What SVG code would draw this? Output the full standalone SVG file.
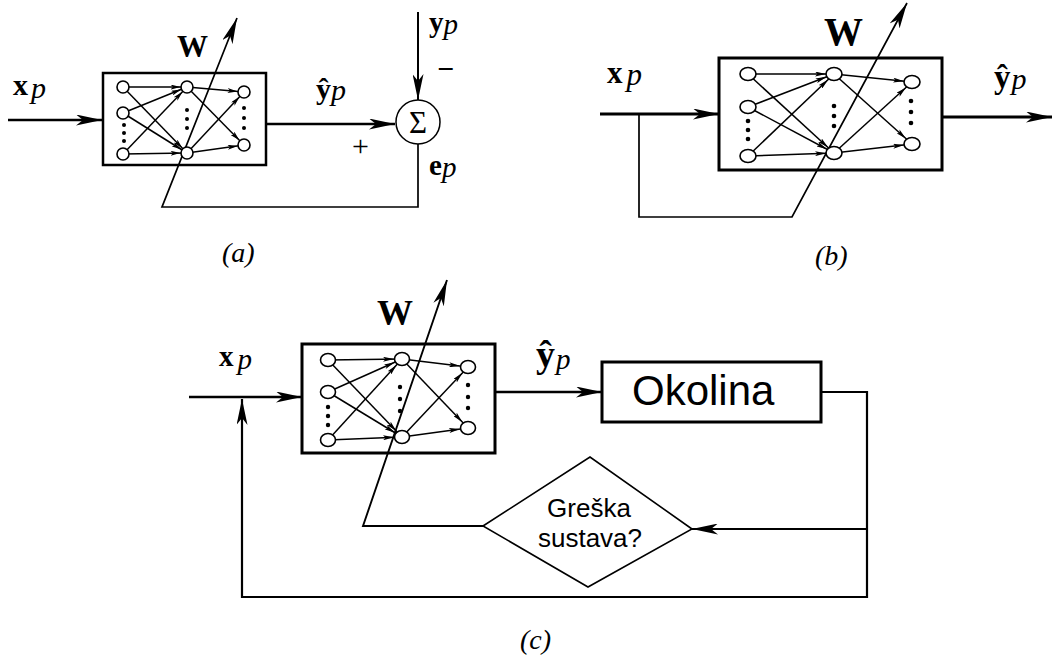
<svg xmlns="http://www.w3.org/2000/svg" width="1054" height="657" viewBox="0 0 1054 657">
<defs>
<style>
.bg{fill:#fff}
.box{fill:none;stroke:#000}
.node{fill:#fff;stroke:#000;stroke-width:1.6}
.dot{fill:#000}
.nl{stroke:#000;stroke-width:1.5;fill:none}
.ln{stroke:#000;fill:none;stroke-linejoin:miter}
.m{font-family:"Liberation Serif","Times New Roman",serif}
.b{font-weight:bold}
.i{font-style:italic}
.s{font-family:"Liberation Sans",Arial,sans-serif}
</style>
<marker id="big" viewBox="0 0 26 11" refX="26" refY="5.5" markerWidth="26" markerHeight="11" markerUnits="userSpaceOnUse" orient="auto">
<path d="M0,0 L26,5.5 L0,11 L7,5.5 z" fill="#000"/>
</marker>
<marker id="sa" viewBox="0 0 10 5" refX="16.5" refY="2.5" markerWidth="10" markerHeight="5" markerUnits="userSpaceOnUse" orient="auto">
<path d="M0,0 L10,2.5 L0,5 L2.5,2.5 z" fill="#000"/>
</marker>
<marker id="sb" viewBox="0 0 11 5" refX="19" refY="2.5" markerWidth="11" markerHeight="5" markerUnits="userSpaceOnUse" orient="auto">
<path d="M0,0 L11,2.5 L0,5 L2.5,2.5 z" fill="#000"/>
</marker>
</defs>
<rect class="bg" x="0" y="0" width="1054" height="657"/>

<g id="connectors">
<!-- (a) -->
<line class="ln" x1="8" y1="120" x2="102" y2="120" stroke-width="2.5" marker-end="url(#big)"/>
<line class="ln" x1="266" y1="124" x2="395" y2="124" stroke-width="2.5" marker-end="url(#big)"/>
<line class="ln" x1="418" y1="12" x2="418" y2="100" stroke-width="2" marker-end="url(#big)"/>
<polyline class="ln" points="418,144 418,207 162,207 237,18" stroke-width="1.7" marker-end="url(#big)"/>
<!-- (b) -->
<line class="ln" x1="600" y1="114" x2="719" y2="114" stroke-width="3" marker-end="url(#big)"/>
<polyline class="ln" points="639,114 639,217 792,217 907,3" stroke-width="1.7" marker-end="url(#big)"/>
<line class="ln" x1="942" y1="117" x2="1052" y2="117" stroke-width="3" marker-end="url(#big)"/>
<!-- (c) -->
<line class="ln" x1="189" y1="397" x2="302" y2="397" stroke-width="2.5" marker-end="url(#big)"/>
<line class="ln" x1="495" y1="392" x2="602" y2="392" stroke-width="2.5" marker-end="url(#big)"/>
<polyline class="ln" points="821,392 867,392 867,597 242,597 242,399" stroke-width="2.2" marker-end="url(#big)"/>
<line class="ln" x1="867" y1="529" x2="692" y2="529" stroke-width="1.8" marker-end="url(#big)"/>
<polyline class="ln" points="483,526 363,526 447,280" stroke-width="1.9" marker-end="url(#big)"/>
</g>

<g id="net-a">
<rect class="box" x="103" y="73" width="163" height="92" stroke-width="2.5"/>
<g class="nl">
<line x1="123" y1="87" x2="187" y2="87" marker-end="url(#sa)"/>
<line x1="123" y1="87" x2="187" y2="153" marker-end="url(#sa)"/>
<line x1="123" y1="113" x2="187" y2="87" marker-end="url(#sa)"/>
<line x1="123" y1="113" x2="187" y2="153" marker-end="url(#sa)"/>
<line x1="123" y1="154" x2="187" y2="87" marker-end="url(#sa)"/>
<line x1="123" y1="154" x2="187" y2="153" marker-end="url(#sa)"/>
<line x1="187" y1="87" x2="244" y2="92" marker-end="url(#sa)"/>
<line x1="187" y1="87" x2="244" y2="145" marker-end="url(#sa)"/>
<line x1="187" y1="153" x2="244" y2="92" marker-end="url(#sa)"/>
<line x1="187" y1="153" x2="244" y2="145" marker-end="url(#sa)"/>
</g>
<circle class="node" cx="123" cy="87" r="6"/>
<circle class="node" cx="123" cy="113" r="6"/>
<circle class="node" cx="123" cy="154" r="6"/>
<circle class="node" cx="187" cy="87" r="6"/>
<circle class="node" cx="187" cy="153" r="6"/>
<circle class="node" cx="244" cy="92" r="6"/>
<circle class="node" cx="244" cy="145" r="6"/>
<circle class="dot" cx="124" cy="125" r="2"/><circle class="dot" cx="124" cy="133" r="2"/><circle class="dot" cx="124" cy="141" r="2"/>
<circle class="dot" cx="187" cy="110" r="2"/><circle class="dot" cx="187" cy="119" r="2"/><circle class="dot" cx="187" cy="128" r="2"/>
<circle class="dot" cx="244" cy="108" r="2"/><circle class="dot" cx="244" cy="118" r="2"/><circle class="dot" cx="244" cy="128" r="2"/>
</g>

<g id="sum-a">
<circle cx="418" cy="122" r="22" fill="#fff" stroke="#000" stroke-width="1.5"/>
<text class="m" x="418" y="133" font-size="31" text-anchor="middle">Σ</text>
</g>

<g id="labels-a">
<text class="m" x="13" y="95" font-size="30"><tspan class="b">x</tspan><tspan class="i" dx="3" dy="3">p</tspan></text>
<text class="m b" x="177" y="57" font-size="31">W</text>
<text class="m" x="316" y="99" font-size="30"><tspan class="b">ŷ</tspan><tspan class="i" dy="1">p</tspan></text>
<text class="m" x="429" y="32" font-size="29"><tspan class="b">y</tspan><tspan class="i" dy="2">p</tspan></text>
<text class="m b" x="439" y="75" font-size="27">–</text>
<text class="m" x="352" y="156" font-size="30">+</text>
<text class="m" x="429" y="175" font-size="29"><tspan class="b">e</tspan><tspan class="i" dy="2">p</tspan></text>
<text class="m i" x="222" y="262" font-size="28">(a)</text>
</g>

<g id="net-b">
<rect class="box" x="719" y="58" width="223" height="112" stroke-width="3"/>
<g class="nl">
<line x1="748" y1="74" x2="834" y2="74" marker-end="url(#sb)"/>
<line x1="748" y1="74" x2="834" y2="153" marker-end="url(#sb)"/>
<line x1="748" y1="107" x2="834" y2="74" marker-end="url(#sb)"/>
<line x1="748" y1="107" x2="834" y2="153" marker-end="url(#sb)"/>
<line x1="748" y1="156" x2="834" y2="74" marker-end="url(#sb)"/>
<line x1="748" y1="156" x2="834" y2="153" marker-end="url(#sb)"/>
<line x1="834" y1="74" x2="912" y2="82" marker-end="url(#sb)"/>
<line x1="834" y1="74" x2="912" y2="144" marker-end="url(#sb)"/>
<line x1="834" y1="153" x2="912" y2="82" marker-end="url(#sb)"/>
<line x1="834" y1="153" x2="912" y2="144" marker-end="url(#sb)"/>
</g>
<ellipse class="node" cx="748" cy="74" rx="8" ry="6.5"/>
<ellipse class="node" cx="748" cy="107" rx="8" ry="6.5"/>
<ellipse class="node" cx="748" cy="156" rx="8" ry="6.5"/>
<ellipse class="node" cx="834" cy="74" rx="8" ry="6.5"/>
<ellipse class="node" cx="834" cy="153" rx="8" ry="6.5"/>
<ellipse class="node" cx="912" cy="82" rx="8" ry="6.5"/>
<ellipse class="node" cx="912" cy="144" rx="8" ry="6.5"/>
<circle class="dot" cx="748" cy="121" r="2.3"/><circle class="dot" cx="748" cy="130" r="2.3"/><circle class="dot" cx="748" cy="139" r="2.3"/>
<circle class="dot" cx="834" cy="106" r="2.3"/><circle class="dot" cx="834" cy="116" r="2.3"/><circle class="dot" cx="834" cy="126" r="2.3"/>
<circle class="dot" cx="911" cy="101" r="2.3"/><circle class="dot" cx="911" cy="112" r="2.3"/><circle class="dot" cx="911" cy="123" r="2.3"/>
</g>

<g id="labels-b">
<text class="m" x="607" y="83" font-size="31"><tspan class="b">x</tspan><tspan class="i" dx="4" dy="2">p</tspan></text>
<text class="m b" x="824" y="45" font-size="39">W</text>
<text class="m" x="994" y="88" font-size="33"><tspan class="b">ŷ</tspan><tspan class="i" dx="1" dy="1" font-size="30">p</tspan></text>
<text class="m i" x="815" y="265" font-size="28">(b)</text>
</g>

<g id="net-c">
<rect class="box" x="302" y="344" width="193" height="109" stroke-width="3"/>
<g class="nl">
<line x1="328" y1="360" x2="402" y2="359" marker-end="url(#sb)"/>
<line x1="328" y1="360" x2="402" y2="437" marker-end="url(#sb)"/>
<line x1="328" y1="392" x2="402" y2="359" marker-end="url(#sb)"/>
<line x1="328" y1="392" x2="402" y2="437" marker-end="url(#sb)"/>
<line x1="328" y1="440" x2="402" y2="359" marker-end="url(#sb)"/>
<line x1="328" y1="440" x2="402" y2="437" marker-end="url(#sb)"/>
<line x1="402" y1="359" x2="468" y2="367" marker-end="url(#sb)"/>
<line x1="402" y1="359" x2="468" y2="428" marker-end="url(#sb)"/>
<line x1="402" y1="437" x2="468" y2="367" marker-end="url(#sb)"/>
<line x1="402" y1="437" x2="468" y2="428" marker-end="url(#sb)"/>
</g>
<ellipse class="node" cx="328" cy="360" rx="7.5" ry="6.5"/>
<ellipse class="node" cx="328" cy="392" rx="7.5" ry="6.5"/>
<ellipse class="node" cx="328" cy="440" rx="7.5" ry="6.5"/>
<ellipse class="node" cx="402" cy="359" rx="7.5" ry="6.5"/>
<ellipse class="node" cx="402" cy="437" rx="7.5" ry="6.5"/>
<ellipse class="node" cx="468" cy="367" rx="7.5" ry="6.5"/>
<ellipse class="node" cx="468" cy="428" rx="7.5" ry="6.5"/>
<circle class="dot" cx="328" cy="407" r="2.2"/><circle class="dot" cx="328" cy="416" r="2.2"/><circle class="dot" cx="328" cy="425" r="2.2"/>
<circle class="dot" cx="400" cy="387" r="2.2"/><circle class="dot" cx="400" cy="399" r="2.2"/><circle class="dot" cx="400" cy="411" r="2.2"/>
<circle class="dot" cx="468" cy="385" r="2.2"/><circle class="dot" cx="468" cy="397" r="2.2"/><circle class="dot" cx="468" cy="408" r="2.2"/>
</g>

<g id="okolina">
<rect x="602" y="362" width="219" height="60" fill="#fff" stroke="#000" stroke-width="3"/>
<text class="s" x="632" y="405" font-size="42">Okolina</text>
</g>

<g id="greska">
<polygon points="483,526 590,457 692,529 588,587" fill="#fff" stroke="#000" stroke-width="1.6"/>
<text class="s" x="589" y="517" font-size="26" text-anchor="middle">Greška</text>
<text class="s" x="590" y="547" font-size="26" text-anchor="middle">sustava?</text>
</g>

<g id="labels-c">
<text class="m" x="219" y="366" font-size="29"><tspan class="b">x</tspan><tspan class="i" dx="4" dy="3">p</tspan></text>
<text class="m b" x="377" y="325" font-size="36">W</text>
<text class="m" x="536" y="367" font-size="38"><tspan class="b">ŷ</tspan><tspan class="i" dx="1" dy="2" font-size="29">p</tspan></text>
<text class="m i" x="520" y="649" font-size="28">(c)</text>
</g>
</svg>
